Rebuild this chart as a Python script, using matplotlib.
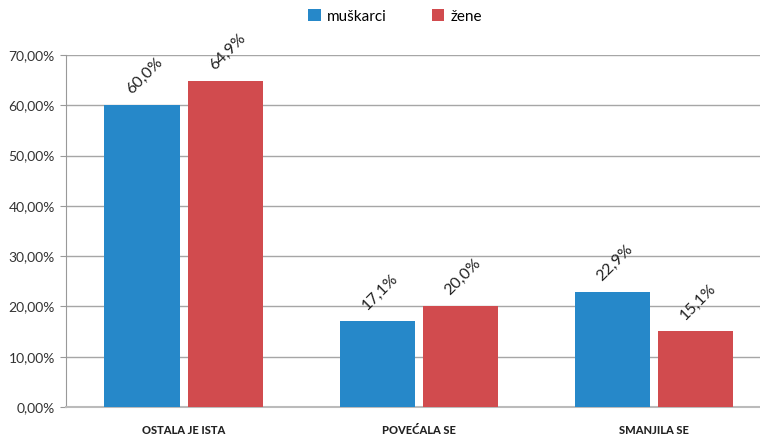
import matplotlib
matplotlib.use("Agg")
import matplotlib.pyplot as plt
from matplotlib.ticker import FuncFormatter
import numpy as np

categories = ["OSTALA JE ISTA", "POVEĆALA SE", "SMANJILA SE"]
series_names = ["muškarci", "žene"]
muskarci = [60.0, 17.1, 22.9]
zene = [64.9, 20.0, 15.1]
colors = ["#2688C9", "#D14B4E"]

plt.rcParams["font.family"] = ["Lato", "DejaVu Sans"]

fig = plt.figure(figsize=(7.6, 4.36), dpi=100)
ax = fig.add_axes([66 / 760, (436 - 407) / 436, 1 - 66 / 760, (407 - 55) / 436])

x = np.arange(len(categories))
width = 75 / 235
offset = 83 / 235 / 2

for vals, dx, col, name in [(muskarci, -offset, colors[0], series_names[0]),
                            (zene, offset, colors[1], series_names[1])]:
    bars = ax.bar(x + dx, vals, width=width, color=col, label=name, zorder=3)
    for b, v in zip(bars, vals):
        ax.annotate(f"{v:.1f}%".replace(".", ","),
                    (b.get_x() + b.get_width() / 2, v),
                    xytext=(2, 6), textcoords="offset points",
                    ha="center", va="bottom", rotation=45,
                    fontsize=11.5, color="#222222")

ax.set_ylim(0, 70)
ax.set_yticks(np.arange(0, 71, 10))
ax.yaxis.set_major_formatter(FuncFormatter(lambda v, p: f"{v:.2f}%".replace(".", ",")))
ax.set_xlim(-0.5, 2.5 - 11 / 235)
ax.set_xticks(x)
ax.set_xticklabels(categories, fontsize=8, fontweight="black", color="#222222")
ax.tick_params(axis="x", length=0, pad=13)
ax.tick_params(axis="y", length=4, color="#999999", labelsize=10, labelcolor="#333333", pad=4)
ax.yaxis.grid(True, color="#A6A6A6", linewidth=1, zorder=0)
for s in ["top", "right"]:
    ax.spines[s].set_visible(False)
ax.spines["left"].set_color("#999999")
ax.spines["bottom"].set_color("#BBBBBB")
ax.spines["bottom"].set_linewidth(1.5)

fig.legend(loc="upper center", bbox_to_anchor=(0.52, 1.01), ncol=2, frameon=False,
           fontsize=11, handlelength=0.8, handleheight=0.8, columnspacing=3.0,
           handletextpad=0.4)

fig.savefig("out.png", dpi=100)
